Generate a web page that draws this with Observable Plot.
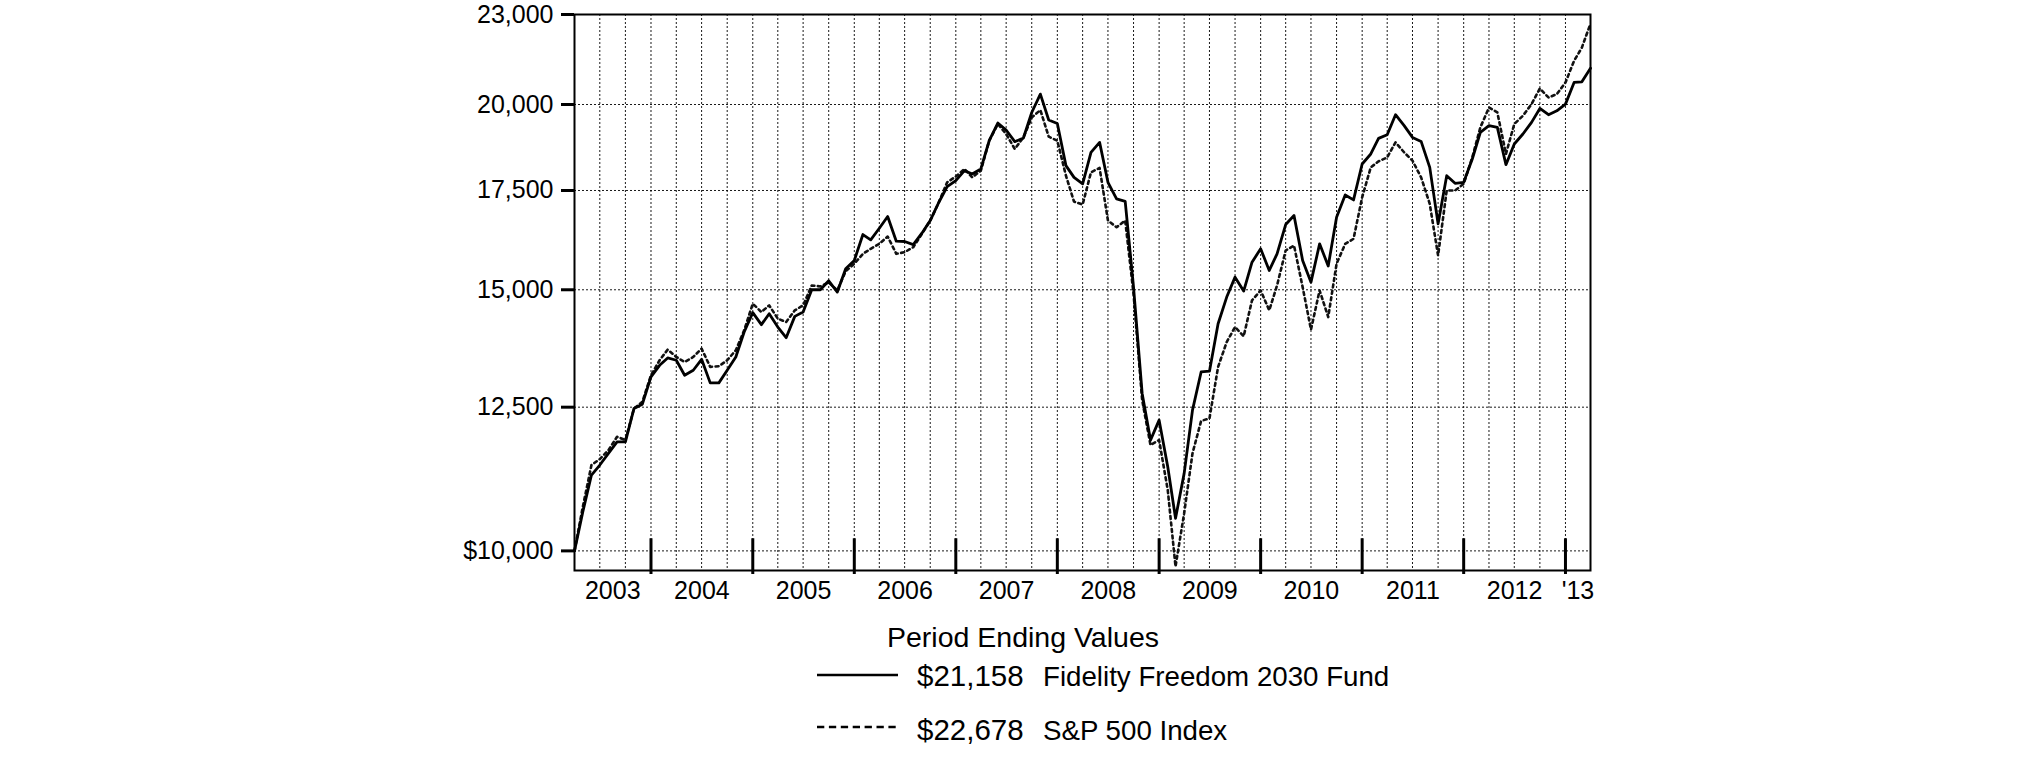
<!DOCTYPE html>
<html>
<head>
<meta charset="utf-8">
<script src="https://cdn.jsdelivr.net/npm/d3@7"></script>
<script src="https://cdn.jsdelivr.net/npm/@observablehq/plot@0.6"></script>
<style>
  html, body { margin: 0; padding: 0; background: #fff; overflow: hidden; }
  #chart svg { display: block; }
  #legend { display: block; }
</style>
</head>
<body>
<div id="chart"></div>
<svg id="legend" width="2025" height="173"></svg>
<script>
// ---- Data (monthly period-ending values, Mar 2003 .. Mar 2013) ----
const startMonth = Date.UTC(2003, 3, 1); // end of March 2003
const monthCount = 121;

const fundValues = [
  10000, 10628, 11250, 11426, 11635, 11846, 11846, 12475, 12558, 13102,
  13340, 13493, 13445, 13135, 13238, 13465, 12981, 12981, 13238, 13514,
  14048, 14476, 14209, 14453, 14157, 13925, 14393, 14490, 15000, 15000,
  15210, 14946, 15497, 15699, 16343, 16210, 16504, 16806, 16175, 16167,
  16091, 16377, 16702, 17183, 17606, 17771, 18048, 17956, 18095, 18906,
  19432, 19223, 18878, 18986, 19754, 20325, 19523, 19420, 18189, 17860,
  17681, 18568, 18858, 17725, 17272, 17208, 15062, 12769, 11877, 12251,
  11396, 10519, 11279, 12442, 13203, 13218, 14230, 14831, 15297, 14969,
  15657, 15985, 15457, 15861, 16599, 16833, 15699, 15179, 16109, 15565,
  16789, 17380, 17246, 18236, 18521, 18975, 19084, 19685, 19353, 19004,
  18886, 18141, 16617, 17907, 17697, 17725, 18377, 19153, 19353, 19302,
  18216, 18810, 19105, 19452, 19877, 19685, 19806, 20012, 20696, 20717,
  21158
];

const spValues = [
  10000, 10711, 11426, 11532, 11694, 11939, 11877, 12475, 12604, 13135,
  13445, 13669, 13514, 13410, 13514, 13690, 13307, 13320, 13445, 13655,
  14084, 14679, 14490, 14641, 14342, 14268, 14528, 14641, 15101, 15078,
  15170, 14985, 15440, 15617, 15861, 15985, 16109, 16293, 15861, 15901,
  16025, 16361, 16702, 17183, 17725, 17882, 18095, 17860, 18048, 18906,
  19403, 19105, 18665, 19004, 19601, 19828, 19025, 18906, 17907, 17200,
  17122, 18001, 18123, 16702, 16530, 16702, 14908, 12637, 11785, 11877,
  10991, 9760, 10601, 11635, 12237, 12283, 13306, 13831, 14157, 13954,
  14755, 14985, 14528, 15101, 15943, 16067, 15062, 14100, 14985, 14378,
  15617, 16109, 16235, 17316, 18141, 18311, 18424, 18858, 18568, 18330,
  17860, 17141, 15820, 17498, 17498, 17681, 18424, 19302, 19907, 19754,
  18521, 19403, 19655, 20012, 20504, 20219, 20325, 20696, 21403, 21848,
  22678
];

const yTicks = [10000, 12500, 15000, 17500, 20000, 23000];
const yTickLabels = ["$10,000", "12,500", "15,000", "17,500", "20,000", "23,000"];
const yearLabels = ["2003", "2004", "2005", "2006", "2007", "2008", "2009", "2010", "2011", "2012", "'13"];

const seriesNames = ["Fidelity Freedom 2030 Fund", "S&P 500 Index"];
const endValues = ["$21,158", "$22,678"];
const legendTitle = "Period Ending Values";

// ---- Derived structures ----
const dates = d3.range(monthCount).map(i => d3.utcMonth.offset(new Date(startMonth), i));
const fundRows = dates.map((d, i) => ({date: d, value: fundValues[i]}));
const spRows = dates.map((d, i) => ({date: d, value: spValues[i]}));

const quarterDates = dates.filter((d, i) => i > 0 && i < monthCount - 1 && d.getUTCMonth() % 3 === 0);
const yearBounds = dates.filter((d, i) => i > 0 && i < monthCount - 1 && d.getUTCMonth() === 0);

// label positions: middle of each year segment inside the domain
const bounds = [dates[0], ...yearBounds, dates[monthCount - 1]];
const labelDates = d3.range(bounds.length - 1).map(i => new Date((+bounds[i] + +bounds[i + 1]) / 2));
const labelMap = new Map(labelDates.map((d, i) => [+d, yearLabels[i]]));
const yLabelMap = new Map(yTicks.map((v, i) => [v, yTickLabels[i]]));

const FONT = "'Liberation Sans', Arial, Helvetica, sans-serif";

const chart = Plot.plot({
  width: 2025,
  height: 610,
  marginLeft: 574,
  marginRight: 435,
  marginTop: 14,
  marginBottom: 40,
  style: {fontFamily: FONT, fontSize: "25px", color: "#000", background: "#fff"},
  x: {type: "utc", domain: [dates[0], dates[monthCount - 1]]},
  y: {type: "log", domain: [9700, 23000]},
  marks: [
    Plot.gridY({ticks: yTicks.filter(v => v < 23000), stroke: "#000", strokeOpacity: 0.9, strokeDasharray: "2 2", strokeWidth: 1}),
    Plot.gridX({ticks: quarterDates, stroke: "#000", strokeOpacity: 0.9, strokeDasharray: "2 2", strokeWidth: 1}),
    Plot.lineY(spRows, {x: "date", y: "value", stroke: "#111", strokeWidth: 2.6, strokeDasharray: "3 3.5"}),
    Plot.lineY(fundRows, {x: "date", y: "value", stroke: "#000", strokeWidth: 2.8}),
    Plot.ruleX(yearBounds, {y1: 9640, y2: 10190, stroke: "#000", strokeWidth: 3}),
    Plot.frame({stroke: "#000", strokeWidth: 2}),
    Plot.axisY({ticks: yTicks, tickFormat: v => yLabelMap.get(v), tickSize: 13, tickPadding: 8, strokeWidth: 3, fontSize: 25, label: null}),
    Plot.axisX({ticks: labelDates, tickFormat: d => labelMap.get(+d), tickSize: 0, tickPadding: 11, fontSize: 25, label: null})
  ]
});
document.getElementById("chart").appendChild(chart);

// ---- Legend below the plot ----
const leg = d3.select("#legend").style("font-family", FONT);
leg.append("text").attr("x", 887).attr("y", 37).attr("font-size", 28.5).text(legendTitle);
const rows = [
  {lineY: 65, baseline: 76, dash: null},
  {lineY: 117, baseline: 130, dash: "7.3 4.6"}
];
rows.forEach((r, i) => {
  leg.append("line").attr("x1", 817).attr("x2", 898).attr("y1", r.lineY).attr("y2", r.lineY)
    .attr("stroke", "#000").attr("stroke-width", 2.7).attr("stroke-dasharray", r.dash);
  leg.append("text").attr("x", 917).attr("y", r.baseline).attr("font-size", 29.5).text(endValues[i]);
  leg.append("text").attr("x", 1043).attr("y", r.baseline).attr("font-size", 27.7).text(seriesNames[i]);
});
</script>
</body>
</html>
